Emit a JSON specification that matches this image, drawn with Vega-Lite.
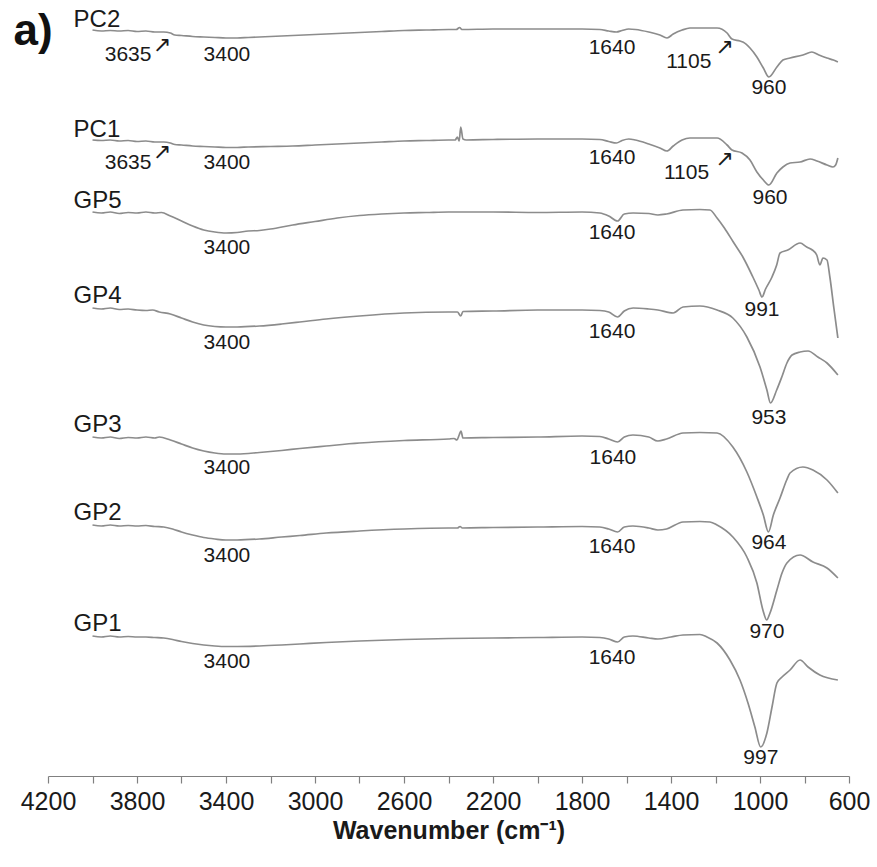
{
  "$schema": "https://vega.github.io/schema/vega-lite/v6.json",
  "width": 801,
  "height": 776,
  "autosize": {"type": "none"},
  "padding": {"left": 48, "top": 0, "right": 28, "bottom": 91},
  "background": "white",
  "config": {"view": {"stroke": null}, "font": "Liberation Sans"},
  "datasets": {
    "spectra": [
      {"s":"PC2","x":4000,"y":186.5},{"s":"PC2","x":3960,"y":186.25},{"s":"PC2","x":3920,"y":186.375},{"s":"PC2","x":3880,"y":186.25},{"s":"PC2","x":3840,"y":186.375},{"s":"PC2","x":3800,"y":186.125},{"s":"PC2","x":3760,"y":186.25},{"s":"PC2","x":3720,"y":186},{"s":"PC2","x":3680,"y":186},{"s":"PC2","x":3650,"y":185.75},{"s":"PC2","x":3630,"y":185.25},{"s":"PC2","x":3600,"y":185.125},{"s":"PC2","x":3550,"y":184.875},{"s":"PC2","x":3500,"y":184.75},{"s":"PC2","x":3450,"y":184.625},{"s":"PC2","x":3400,"y":184.5},{"s":"PC2","x":3350,"y":184.5},{"s":"PC2","x":3300,"y":184.625},{"s":"PC2","x":3200,"y":184.875},{"s":"PC2","x":3100,"y":185.125},{"s":"PC2","x":3000,"y":185.375},{"s":"PC2","x":2900,"y":185.625},{"s":"PC2","x":2800,"y":185.875},{"s":"PC2","x":2700,"y":186.125},{"s":"PC2","x":2600,"y":186.375},{"s":"PC2","x":2500,"y":186.5},{"s":"PC2","x":2400,"y":186.625},{"s":"PC2","x":2365,"y":186.625},{"s":"PC2","x":2350,"y":187.125},{"s":"PC2","x":2340,"y":186.625},{"s":"PC2","x":2200,"y":186.75},{"s":"PC2","x":2000,"y":186.75},{"s":"PC2","x":1800,"y":186.75},{"s":"PC2","x":1720,"y":186.625},{"s":"PC2","x":1680,"y":186.25},{"s":"PC2","x":1645,"y":186},{"s":"PC2","x":1620,"y":186.375},{"s":"PC2","x":1590,"y":186.75},{"s":"PC2","x":1560,"y":186.625},{"s":"PC2","x":1500,"y":186},{"s":"PC2","x":1450,"y":185.25},{"s":"PC2","x":1418,"y":184.5},{"s":"PC2","x":1390,"y":185.5},{"s":"PC2","x":1350,"y":186.5},{"s":"PC2","x":1315,"y":187},{"s":"PC2","x":1250,"y":187},{"s":"PC2","x":1193,"y":187},{"s":"PC2","x":1148,"y":185.75},{"s":"PC2","x":1126,"y":184.25},{"s":"PC2","x":1090,"y":183.75},{"s":"PC2","x":1077,"y":183.5},{"s":"PC2","x":1045,"y":182},{"s":"PC2","x":1014,"y":179.75},{"s":"PC2","x":985,"y":177},{"s":"PC2","x":960,"y":174.75},{"s":"PC2","x":924,"y":177.25},{"s":"PC2","x":897,"y":179},{"s":"PC2","x":865,"y":179.5},{"s":"PC2","x":807,"y":180.25},{"s":"PC2","x":767,"y":181},{"s":"PC2","x":735,"y":180.25},{"s":"PC2","x":699,"y":179.5},{"s":"PC2","x":670,"y":179},{"s":"PC2","x":650,"y":178.5},

      {"s":"PC1","x":4000,"y":159},{"s":"PC1","x":3960,"y":158.875},{"s":"PC1","x":3920,"y":159},{"s":"PC1","x":3880,"y":158.75},{"s":"PC1","x":3840,"y":158.875},{"s":"PC1","x":3800,"y":158.625},{"s":"PC1","x":3760,"y":158.75},{"s":"PC1","x":3720,"y":158.5},{"s":"PC1","x":3680,"y":158.5},{"s":"PC1","x":3650,"y":158.25},{"s":"PC1","x":3630,"y":157.875},{"s":"PC1","x":3600,"y":157.75},{"s":"PC1","x":3550,"y":157.5},{"s":"PC1","x":3500,"y":157.375},{"s":"PC1","x":3450,"y":157.25},{"s":"PC1","x":3400,"y":157.125},{"s":"PC1","x":3350,"y":157.125},{"s":"PC1","x":3300,"y":157.25},{"s":"PC1","x":3200,"y":157.375},{"s":"PC1","x":3100,"y":157.5},{"s":"PC1","x":3000,"y":157.75},{"s":"PC1","x":2900,"y":158},{"s":"PC1","x":2800,"y":158.25},{"s":"PC1","x":2700,"y":158.5},{"s":"PC1","x":2600,"y":158.75},{"s":"PC1","x":2500,"y":158.875},{"s":"PC1","x":2400,"y":159},{"s":"PC1","x":2370,"y":159},{"s":"PC1","x":2360,"y":159.75},{"s":"PC1","x":2352,"y":158.75},{"s":"PC1","x":2345,"y":162.25},{"s":"PC1","x":2335,"y":159.25},{"s":"PC1","x":2320,"y":159},{"s":"PC1","x":2200,"y":159.125},{"s":"PC1","x":2000,"y":159.25},{"s":"PC1","x":1800,"y":159.25},{"s":"PC1","x":1720,"y":159.125},{"s":"PC1","x":1680,"y":158.625},{"s":"PC1","x":1645,"y":158.25},{"s":"PC1","x":1620,"y":158.875},{"s":"PC1","x":1590,"y":159.25},{"s":"PC1","x":1560,"y":159},{"s":"PC1","x":1500,"y":158},{"s":"PC1","x":1450,"y":157},{"s":"PC1","x":1418,"y":156.25},{"s":"PC1","x":1390,"y":157.5},{"s":"PC1","x":1350,"y":159},{"s":"PC1","x":1315,"y":159.5},{"s":"PC1","x":1250,"y":159.5},{"s":"PC1","x":1193,"y":159.5},{"s":"PC1","x":1148,"y":157.75},{"s":"PC1","x":1126,"y":156.5},{"s":"PC1","x":1081,"y":155.75},{"s":"PC1","x":1045,"y":154},{"s":"PC1","x":1014,"y":151},{"s":"PC1","x":985,"y":149},{"s":"PC1","x":960,"y":147.75},{"s":"PC1","x":924,"y":150.75},{"s":"PC1","x":897,"y":152.25},{"s":"PC1","x":865,"y":153.25},{"s":"PC1","x":820,"y":153.5},{"s":"PC1","x":775,"y":154.25},{"s":"PC1","x":744,"y":153.75},{"s":"PC1","x":699,"y":152.75},{"s":"PC1","x":672,"y":152.25},{"s":"PC1","x":660,"y":152.75},{"s":"PC1","x":650,"y":154.5},

      {"s":"GP5","x":4000,"y":141},{"s":"GP5","x":3960,"y":140.75},{"s":"GP5","x":3920,"y":141},{"s":"GP5","x":3880,"y":140.625},{"s":"GP5","x":3840,"y":140.875},{"s":"GP5","x":3800,"y":140.75},{"s":"GP5","x":3760,"y":141},{"s":"GP5","x":3720,"y":140.75},{"s":"GP5","x":3690,"y":140.875},{"s":"GP5","x":3650,"y":140},{"s":"GP5","x":3600,"y":138.75},{"s":"GP5","x":3550,"y":137.5},{"s":"GP5","x":3500,"y":136.5},{"s":"GP5","x":3450,"y":136},{"s":"GP5","x":3400,"y":135.75},{"s":"GP5","x":3350,"y":135.875},{"s":"GP5","x":3300,"y":136.25},{"s":"GP5","x":3250,"y":136.375},{"s":"GP5","x":3200,"y":136.75},{"s":"GP5","x":3100,"y":137.75},{"s":"GP5","x":3000,"y":138.625},{"s":"GP5","x":2900,"y":139.5},{"s":"GP5","x":2800,"y":140.125},{"s":"GP5","x":2700,"y":140.5},{"s":"GP5","x":2600,"y":140.75},{"s":"GP5","x":2500,"y":140.875},{"s":"GP5","x":2400,"y":141},{"s":"GP5","x":2200,"y":141},{"s":"GP5","x":2000,"y":140.875},{"s":"GP5","x":1800,"y":141},{"s":"GP5","x":1720,"y":140.75},{"s":"GP5","x":1680,"y":140},{"s":"GP5","x":1640,"y":138.75},{"s":"GP5","x":1610,"y":140.5},{"s":"GP5","x":1570,"y":140.75},{"s":"GP5","x":1500,"y":140.625},{"s":"GP5","x":1459,"y":140.25},{"s":"GP5","x":1420,"y":140.5},{"s":"GP5","x":1346,"y":141.5},{"s":"GP5","x":1270,"y":141.625},{"s":"GP5","x":1225,"y":141.5},{"s":"GP5","x":1193,"y":139.5},{"s":"GP5","x":1160,"y":137},{"s":"GP5","x":1120,"y":133.5},{"s":"GP5","x":1077,"y":129.75},{"s":"GP5","x":1032,"y":124.75},{"s":"GP5","x":1005,"y":121.5},{"s":"GP5","x":991,"y":119.75},{"s":"GP5","x":975,"y":121.75},{"s":"GP5","x":946,"y":124.75},{"s":"GP5","x":925,"y":127.75},{"s":"GP5","x":910,"y":130.75},{"s":"GP5","x":875,"y":131.5},{"s":"GP5","x":820,"y":133.25},{"s":"GP5","x":790,"y":132.25},{"s":"GP5","x":765,"y":131.5},{"s":"GP5","x":745,"y":130.25},{"s":"GP5","x":731,"y":127.75},{"s":"GP5","x":717,"y":129.5},{"s":"GP5","x":699,"y":129},{"s":"GP5","x":686,"y":124.75},{"s":"GP5","x":668,"y":117},{"s":"GP5","x":650,"y":109.5},

      {"s":"GP4","x":4000,"y":117},{"s":"GP4","x":3960,"y":116.75},{"s":"GP4","x":3920,"y":117},{"s":"GP4","x":3880,"y":116.625},{"s":"GP4","x":3840,"y":116.75},{"s":"GP4","x":3800,"y":116.5},{"s":"GP4","x":3760,"y":116.375},{"s":"GP4","x":3730,"y":116.5},{"s":"GP4","x":3700,"y":116},{"s":"GP4","x":3650,"y":115.5},{"s":"GP4","x":3600,"y":114.5},{"s":"GP4","x":3550,"y":113.5},{"s":"GP4","x":3500,"y":112.75},{"s":"GP4","x":3450,"y":112.375},{"s":"GP4","x":3400,"y":112.25},{"s":"GP4","x":3350,"y":112.25},{"s":"GP4","x":3250,"y":112.5},{"s":"GP4","x":3150,"y":113},{"s":"GP4","x":3068,"y":113.5},{"s":"GP4","x":2950,"y":114.25},{"s":"GP4","x":2800,"y":115},{"s":"GP4","x":2600,"y":115.75},{"s":"GP4","x":2400,"y":116},{"s":"GP4","x":2360,"y":116},{"s":"GP4","x":2345,"y":115},{"s":"GP4","x":2335,"y":116.125},{"s":"GP4","x":2200,"y":116.25},{"s":"GP4","x":2000,"y":116.5},{"s":"GP4","x":1800,"y":116.5},{"s":"GP4","x":1720,"y":116.375},{"s":"GP4","x":1680,"y":116},{"s":"GP4","x":1640,"y":114.75},{"s":"GP4","x":1610,"y":116.25},{"s":"GP4","x":1570,"y":117},{"s":"GP4","x":1500,"y":116.75},{"s":"GP4","x":1459,"y":116.5},{"s":"GP4","x":1390,"y":115.75},{"s":"GP4","x":1346,"y":117.25},{"s":"GP4","x":1270,"y":117.5},{"s":"GP4","x":1193,"y":116.5},{"s":"GP4","x":1122,"y":114.5},{"s":"GP4","x":1059,"y":109.75},{"s":"GP4","x":1000,"y":102.25},{"s":"GP4","x":969,"y":96.5},{"s":"GP4","x":953,"y":93.25},{"s":"GP4","x":925,"y":96.5},{"s":"GP4","x":902,"y":99.75},{"s":"GP4","x":879,"y":103.25},{"s":"GP4","x":856,"y":105.25},{"s":"GP4","x":820,"y":106},{"s":"GP4","x":784,"y":106.25},{"s":"GP4","x":740,"y":104.75},{"s":"GP4","x":699,"y":103.25},{"s":"GP4","x":650,"y":100.25},

      {"s":"GP3","x":4000,"y":84.75},{"s":"GP3","x":3960,"y":84.5},{"s":"GP3","x":3920,"y":84.75},{"s":"GP3","x":3880,"y":84.375},{"s":"GP3","x":3840,"y":84.625},{"s":"GP3","x":3800,"y":84.5},{"s":"GP3","x":3760,"y":84.75},{"s":"GP3","x":3720,"y":84.5},{"s":"GP3","x":3700,"y":84.75},{"s":"GP3","x":3650,"y":84},{"s":"GP3","x":3600,"y":83},{"s":"GP3","x":3550,"y":82},{"s":"GP3","x":3500,"y":81.25},{"s":"GP3","x":3450,"y":80.75},{"s":"GP3","x":3400,"y":80.5},{"s":"GP3","x":3350,"y":80.5},{"s":"GP3","x":3250,"y":80.875},{"s":"GP3","x":3150,"y":81.375},{"s":"GP3","x":3068,"y":81.875},{"s":"GP3","x":2950,"y":82.5},{"s":"GP3","x":2800,"y":83.25},{"s":"GP3","x":2600,"y":83.875},{"s":"GP3","x":2400,"y":84.25},{"s":"GP3","x":2375,"y":84.375},{"s":"GP3","x":2362,"y":84},{"s":"GP3","x":2352,"y":85.25},{"s":"GP3","x":2344,"y":86.25},{"s":"GP3","x":2335,"y":84.5},{"s":"GP3","x":2200,"y":84.625},{"s":"GP3","x":2000,"y":84.75},{"s":"GP3","x":1800,"y":85},{"s":"GP3","x":1720,"y":84.875},{"s":"GP3","x":1680,"y":84.25},{"s":"GP3","x":1640,"y":83.5},{"s":"GP3","x":1610,"y":84.75},{"s":"GP3","x":1571,"y":85.25},{"s":"GP3","x":1500,"y":84.75},{"s":"GP3","x":1459,"y":83.75},{"s":"GP3","x":1420,"y":84.25},{"s":"GP3","x":1346,"y":85.75},{"s":"GP3","x":1270,"y":85.875},{"s":"GP3","x":1193,"y":85.75},{"s":"GP3","x":1122,"y":82.25},{"s":"GP3","x":1059,"y":76},{"s":"GP3","x":1014,"y":69.75},{"s":"GP3","x":985,"y":65.25},{"s":"GP3","x":962,"y":61},{"s":"GP3","x":940,"y":65.25},{"s":"GP3","x":910,"y":69.5},{"s":"GP3","x":880,"y":74},{"s":"GP3","x":865,"y":75.75},{"s":"GP3","x":807,"y":77.25},{"s":"GP3","x":762,"y":76.5},{"s":"GP3","x":699,"y":74},{"s":"GP3","x":650,"y":70.75},

      {"s":"GP2","x":4000,"y":62.75},{"s":"GP2","x":3960,"y":62.5},{"s":"GP2","x":3920,"y":62.75},{"s":"GP2","x":3880,"y":62.5},{"s":"GP2","x":3840,"y":62.625},{"s":"GP2","x":3800,"y":62.5},{"s":"GP2","x":3760,"y":62.625},{"s":"GP2","x":3720,"y":62.375},{"s":"GP2","x":3680,"y":62.25},{"s":"GP2","x":3640,"y":61.75},{"s":"GP2","x":3600,"y":61},{"s":"GP2","x":3550,"y":60.25},{"s":"GP2","x":3500,"y":59.625},{"s":"GP2","x":3450,"y":59.25},{"s":"GP2","x":3400,"y":59},{"s":"GP2","x":3350,"y":59},{"s":"GP2","x":3250,"y":59.25},{"s":"GP2","x":3150,"y":59.75},{"s":"GP2","x":3068,"y":60.125},{"s":"GP2","x":2950,"y":60.75},{"s":"GP2","x":2800,"y":61.25},{"s":"GP2","x":2600,"y":61.75},{"s":"GP2","x":2400,"y":62},{"s":"GP2","x":2360,"y":62},{"s":"GP2","x":2348,"y":62.375},{"s":"GP2","x":2338,"y":62},{"s":"GP2","x":2200,"y":62.125},{"s":"GP2","x":2000,"y":62.25},{"s":"GP2","x":1800,"y":62.375},{"s":"GP2","x":1720,"y":62.25},{"s":"GP2","x":1680,"y":61.75},{"s":"GP2","x":1640,"y":61},{"s":"GP2","x":1610,"y":62.25},{"s":"GP2","x":1571,"y":62.5},{"s":"GP2","x":1500,"y":62},{"s":"GP2","x":1459,"y":61.5},{"s":"GP2","x":1420,"y":61.75},{"s":"GP2","x":1346,"y":63.5},{"s":"GP2","x":1270,"y":63.625},{"s":"GP2","x":1225,"y":63.5},{"s":"GP2","x":1193,"y":62.75},{"s":"GP2","x":1122,"y":59.75},{"s":"GP2","x":1059,"y":54.75},{"s":"GP2","x":1014,"y":48.25},{"s":"GP2","x":987,"y":41.5},{"s":"GP2","x":970,"y":39},{"s":"GP2","x":955,"y":40.75},{"s":"GP2","x":924,"y":46.5},{"s":"GP2","x":901,"y":50.75},{"s":"GP2","x":879,"y":53.25},{"s":"GP2","x":820,"y":55.25},{"s":"GP2","x":762,"y":53.5},{"s":"GP2","x":699,"y":52},{"s":"GP2","x":650,"y":49.5},

      {"s":"GP1","x":4000,"y":35},{"s":"GP1","x":3960,"y":34.75},{"s":"GP1","x":3920,"y":35},{"s":"GP1","x":3880,"y":34.75},{"s":"GP1","x":3840,"y":34.875},{"s":"GP1","x":3800,"y":34.75},{"s":"GP1","x":3760,"y":34.75},{"s":"GP1","x":3720,"y":34.625},{"s":"GP1","x":3680,"y":34.5},{"s":"GP1","x":3640,"y":34.125},{"s":"GP1","x":3600,"y":33.625},{"s":"GP1","x":3550,"y":33.125},{"s":"GP1","x":3500,"y":32.75},{"s":"GP1","x":3450,"y":32.5},{"s":"GP1","x":3400,"y":32.375},{"s":"GP1","x":3350,"y":32.375},{"s":"GP1","x":3250,"y":32.5},{"s":"GP1","x":3150,"y":32.75},{"s":"GP1","x":3068,"y":33},{"s":"GP1","x":2950,"y":33.375},{"s":"GP1","x":2800,"y":33.75},{"s":"GP1","x":2600,"y":34.125},{"s":"GP1","x":2400,"y":34.375},{"s":"GP1","x":2200,"y":34.5},{"s":"GP1","x":2000,"y":34.625},{"s":"GP1","x":1800,"y":34.75},{"s":"GP1","x":1720,"y":34.625},{"s":"GP1","x":1680,"y":34.25},{"s":"GP1","x":1640,"y":33.5},{"s":"GP1","x":1610,"y":34.75},{"s":"GP1","x":1571,"y":35},{"s":"GP1","x":1500,"y":34.5},{"s":"GP1","x":1459,"y":34.25},{"s":"GP1","x":1400,"y":34.75},{"s":"GP1","x":1346,"y":35.25},{"s":"GP1","x":1270,"y":35.375},{"s":"GP1","x":1238,"y":34.75},{"s":"GP1","x":1193,"y":33.25},{"s":"GP1","x":1135,"y":29},{"s":"GP1","x":1090,"y":24},{"s":"GP1","x":1054,"y":18.25},{"s":"GP1","x":1023,"y":12.25},{"s":"GP1","x":997,"y":7.25},{"s":"GP1","x":969,"y":10.75},{"s":"GP1","x":946,"y":17.25},{"s":"GP1","x":924,"y":23.25},{"s":"GP1","x":901,"y":24.75},{"s":"GP1","x":865,"y":26.5},{"s":"GP1","x":820,"y":29},{"s":"GP1","x":784,"y":27.25},{"s":"GP1","x":731,"y":25.25},{"s":"GP1","x":650,"y":24}
    ],
    "names": [
      {"t":"PC2","x":4085,"y":187.25},
      {"t":"PC1","x":4085,"y":159.75},
      {"t":"GP5","x":4085,"y":142},
      {"t":"GP4","x":4085,"y":118.25},
      {"t":"GP3","x":4085,"y":86},
      {"t":"GP2","x":4085,"y":64},
      {"t":"GP1","x":4085,"y":36.25}
    ],
    "peaks": [
      {"t":"3635","x":3840,"y":180.25},{"t":"3400","x":3396,"y":180.25},{"t":"1640","x":1665,"y":182},{"t":"1105","x":1320,"y":178.5},{"t":"960","x":960,"y":172},
      {"t":"3635","x":3840,"y":153.25},{"t":"3400","x":3396,"y":153.25},{"t":"1640","x":1665,"y":154.5},{"t":"1105","x":1330,"y":150.75},{"t":"960","x":955,"y":144.5},
      {"t":"3400","x":3396,"y":132},{"t":"1640","x":1665,"y":135.75},{"t":"991","x":991,"y":116.5},
      {"t":"3400","x":3396,"y":108.25},{"t":"1640","x":1665,"y":111},{"t":"953","x":960,"y":89.5},
      {"t":"3400","x":3396,"y":77},{"t":"1640","x":1661,"y":79.5},{"t":"964","x":960,"y":58.25},
      {"t":"3400","x":3396,"y":55},{"t":"1640","x":1665,"y":57.25},{"t":"970","x":969,"y":36},
      {"t":"3400","x":3396,"y":28.5},{"t":"1640","x":1665,"y":29.5},{"t":"997","x":996,"y":4.5}
    ],
    "arrows": [
      {"t":"↗","x":3688,"y":182.75},
      {"t":"↗","x":3688,"y":156},
      {"t":"↗","x":1160,"y":182.25},
      {"t":"↗","x":1160,"y":154.25}
    ],
    "panel": [
      {"t":"a)","x":4267,"y":186}
    ]
  },
  "layer": [
    {
      "data": {"name": "spectra"},
      "mark": {"type": "line", "color": "#8c8c8c", "strokeWidth": 1.7, "interpolate": "monotone"},
      "encoding": {
        "x": {
          "field": "x", "type": "quantitative",
          "scale": {"domain": [600, 4200], "reverse": true, "nice": false, "zero": false},
          "axis": {
            "orient": "bottom",
            "values": [4200,4100,4000,3900,3800,3700,3600,3500,3400,3300,3200,3100,3000,2900,2800,2700,2600,2500,2400,2300,2200,2100,2000,1900,1800,1700,1600,1500,1400,1300,1200,1100,1000,900,800,700,600],
            "format": "d",
            "labelExpr": "(4200 - datum.value) % 400 === 0 ? datum.label : ''",
            "grid": false,
            "tickSize": 7, "tickWidth": 1.2, "tickColor": "#808080",
            "domainColor": "#808080", "domainWidth": 1.2,
            "labelFontSize": 25, "labelColor": "#1a1a1a", "labelPadding": 6,
            "labelFlush": false, "labelOverlap": false,
            "title": "Wavenumber (cm⁻¹)", "titleFontSize": 25, "titleFontWeight": "bold",
            "titleColor": "#1a1a1a", "titlePadding": 4
          }
        },
        "y": {"field": "y", "type": "quantitative", "scale": {"domain": [0, 194], "nice": false, "zero": false}, "axis": null},
        "detail": {"field": "s"}
      }
    },
    {
      "data": {"name": "names"},
      "mark": {"type": "text", "fontSize": 24, "align": "left", "baseline": "alphabetic", "color": "#1a1a1a"},
      "encoding": {
        "x": {"field": "x", "type": "quantitative"},
        "y": {"field": "y", "type": "quantitative"},
        "text": {"field": "t"}
      }
    },
    {
      "data": {"name": "peaks"},
      "mark": {"type": "text", "fontSize": 21, "align": "center", "baseline": "middle", "color": "#1a1a1a"},
      "encoding": {
        "x": {"field": "x", "type": "quantitative"},
        "y": {"field": "y", "type": "quantitative"},
        "text": {"field": "t"}
      }
    },
    {
      "data": {"name": "arrows"},
      "mark": {"type": "text", "font": "DejaVu Sans", "fontSize": 22, "align": "center", "baseline": "middle", "color": "#1a1a1a"},
      "encoding": {
        "x": {"field": "x", "type": "quantitative"},
        "y": {"field": "y", "type": "quantitative"},
        "text": {"field": "t"}
      }
    },
    {
      "data": {"name": "panel"},
      "mark": {"type": "text", "fontSize": 44, "fontWeight": "bold", "align": "center", "baseline": "middle", "color": "#111111"},
      "encoding": {
        "x": {"field": "x", "type": "quantitative"},
        "y": {"field": "y", "type": "quantitative"},
        "text": {"field": "t"}
      }
    }
  ]
}
